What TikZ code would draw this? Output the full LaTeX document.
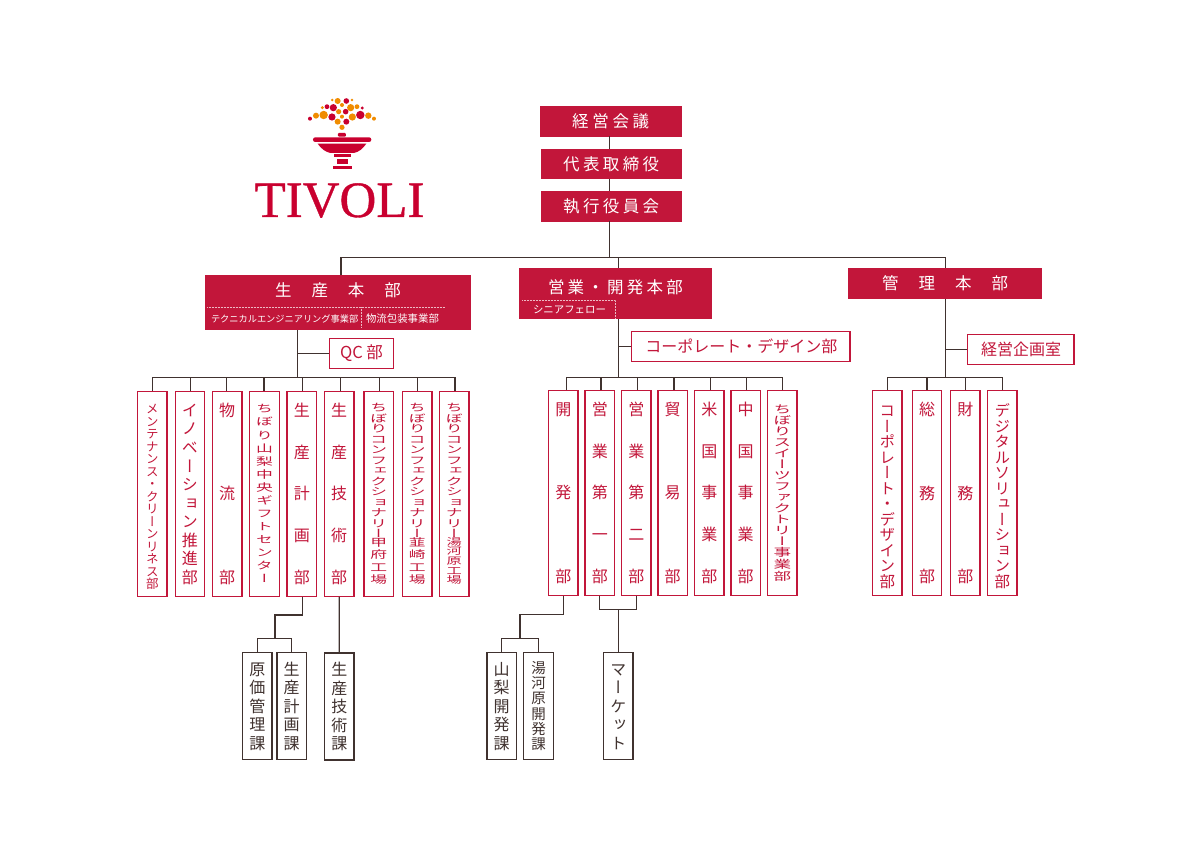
\documentclass[tikz,border=0pt]{standalone}
\usepackage{fontspec}
\newfontfamily\hf{Noto Sans CJK JP}
\newfontfamily\vf[RawFeature=+vert]{Noto Sans CJK JP}
\newfontfamily\vfw[RawFeature=+vert,FakeStretch=1.6]{Noto Sans CJK JP}
\newfontfamily\logofont[FakeBold=0.7]{Liberation Serif}
\definecolor{brand}{HTML}{C2163A}
\definecolor{logored}{HTML}{C9002F}
\definecolor{logoor}{HTML}{F08C00}
\definecolor{linecol}{HTML}{40322F}
\makeatletter
\newdimen\vstsize
% #1 font, #2 size, #3 stack height, #4 characters
\newcommand\vst[4]{\vbox to #3pt{\offinterlineskip\vstsize=#2pt
  \fontsize{#2}{#2}#1\selectfont
  \def\vstsep{}%
  \@tfor\vstch:=#4\do{\vstsep\gdef\vstsep{\vfill}%
    \hbox to 20pt{\hss\vrule height .88\vstsize depth .12\vstsize width 0pt\smash{\vstch}\hss}}%
  \global\let\vstsep\relax}}
% #1 size, #2 width, #3 characters
\newcommand\hsp[3]{\hbox to #2pt{\fontsize{#1}{#1}\hf\selectfont
  \def\hspsep{}%
  \@tfor\hspch:=#3\do{\hspsep\gdef\hspsep{\hfill}\hbox{\hspch}}%
  \global\let\hspsep\relax}}
\makeatother
\tikzset{
  x=1pt,y=-1pt,
  redbox/.style={draw=brand,fill=brand,line width=.6pt,inner sep=0pt,text=white},
  deptbox/.style={draw=brand,fill=white,line width=1.25pt,inner sep=0pt,minimum width=29.5pt,minimum height=205pt,text=brand},
  secbox/.style={draw=linecol,fill=white,line width=1.25pt,inner sep=0pt,minimum width=29.5pt,minimum height=107pt,text=linecol},
  sidebox/.style={draw=brand,fill=white,line width=1.25pt,inner sep=0pt,minimum height=29.5pt,text=brand},
  conn/.style={draw=linecol,line width=1.3pt},
  dotline/.style={draw=white!70!brand,line width=.5pt,densely dotted},
  subtext/.style={inner sep=0pt,text=white},
}
\begin{document}
\begin{tikzpicture}
\useasboundingbox (0,0) rectangle (1200,867);
\fill[white] (0,0) rectangle (1200,867);
% --- logo
\begin{scope}[shift={(230,85)},x=.3333pt,y=-.3333pt]
\foreach \a/\b/\r in {323/48/7.5,307/45/3.5,366/45/3.5,277/68/4,336/60/5,362/68/9,381/65/6,258/92/7.5,281/90/10.5,326/80/6.5,336/95/5,367/96/9,415/92/8,432/101/5,323/110/7.5,336/127/6.5}
  \fill[logoor] (\a,\b) circle[radius=1.2*\r];
\foreach \a/\b/\r in {349/48/7,291/65/6,310/68/9,397/69/4,240/101/5,306/96/9,347/80/7,391/90/10.5,349/110/7.5}
  \fill[logored] (\a,\b) circle[radius=1.2*\r];
\fill[logored,rounded corners=1pt] (324,155) -- (324,144) -- (348,144) -- (348,155) -- cycle;
\fill[logored,rounded corners=2.2pt] (249,171) -- (249,157) -- (424,157) -- (424,171) -- cycle;
\fill[logored] (263,176) -- (409,176) .. controls (398,192) and (386,201) .. (372,204) -- (301,204) .. controls (287,201) and (274,192) .. (263,176) -- cycle;
\fill[logored] (312,207) rectangle (362,216);
\fill[logored] (321,221) rectangle (353,238);
\fill[logored] (309,242) rectangle (365,252);
\end{scope}
\node[inner sep=0pt,text=logored] (logo) at (339.5,200.5) {\fontsize{51}{51}\logofont\selectfont TIVOLI};
% --- top boxes
\node[redbox,minimum width=140.5pt,minimum height=29.3pt] (kaigi) at (610.7,121.4) {\hsp{16.5}{77}{経営会議}};
\node[redbox,minimum width=139.5pt,minimum height=29.3pt] (daihyo) at (611.2,164) {\hsp{16.5}{96}{代表取締役}};
\node[redbox,minimum width=139.5pt,minimum height=29.3pt] (shikko) at (611.2,206.2) {\hsp{16.5}{96}{執行役員会}};
% --- divisions
\node[redbox,minimum width=264.5pt,minimum height=54.7pt] (seisan) at (337.8,302.4) {};
\node[subtext] (seisanT) at (338,290) {\hsp{16.5}{126}{生産本部}};
\node[subtext] (seisanA) at (283,319) {\hsp{9.2}{144}{テクニカルエンジニアリング事業部}};
\node[subtext] (seisanB) at (402.5,319) {\hsp{10.4}{73}{物流包装事業部}};
\coordinate (sd1) at (207,307); \coordinate (sd2) at (445,307);
\coordinate (sd3) at (361.7,307); \coordinate (sd4) at (361.7,328);
\draw[dotline] (sd1) -- (sd2);
\draw[dotline] (sd3) -- (sd4);
\node[redbox,minimum width=192.7pt,minimum height=50pt] (eigyo) at (615.4,293.7) {};
\node[subtext] (eigyoT) at (615.5,287) {\hsp{16.5}{135}{営業・開発本部}};
\node[subtext] (eigyoA) at (569.5,310) {\hsp{10.4}{73}{シニアフェロー}};
\coordinate (ed2) at (522,300);
\coordinate (ed3) at (615.5,300); \coordinate (ed4) at (615.5,318.5);
\draw[dotline] (ed2) -- (ed3) -- (ed4);
\node[redbox,minimum width=193.4pt,minimum height=29.6pt] (kanri) at (945,283.5) {\hsp{16.5}{126}{管理本部}};
% --- side boxes
\node[sidebox,minimum width=64.4pt,minimum height=30pt] (qc) at (361.5,353.4) {\fontsize{16.5}{16.5}\hf\selectfont QC 部};
\node[sidebox,minimum width=218.3pt,minimum height=30.3pt] (corpS) at (740.8,346.5) {\hsp{16}{191}{コーポレート・デザイン部}};
\node[sidebox,minimum width=106.7pt] (kikaku) at (1020.6,349.5) {\hsp{16}{79}{経営企画室}};
% --- production departments
\node[deptbox] (p1) at (152.3,493.8) {\vst{\vf}{12.5}{181}{メンテナンス・クリーンリネス部}};
\node[deptbox] (p2) at (189.9,493.8) {\vst{\vf}{16}{181}{イノベーション推進部}};
\node[deptbox] (p3) at (227.2,493.8) {\vst{\vf}{16}{181}{物流部}};
\node[deptbox] (p4) at (264.5,493.8) {\vst{\vfw}{10.5}{179}{ちぼり山梨中央ギフトセンター}};
\node[deptbox] (p5) at (301.8,493.8) {\vst{\vf}{16}{181}{生産計画部}};
\node[deptbox] (p6) at (339.2,493.8) {\vst{\vf}{16}{181}{生産技術部}};
\node[deptbox] (p7) at (378.7,493.8) {\vbox{\vst{\vfw}{10.5}{125}{ちぼりコンフェクショナリー}\kern7pt\vst{\vfw}{10.5}{47}{甲府工場}}};
\node[deptbox] (p8) at (417.3,493.8) {\vbox{\vst{\vfw}{10.5}{125}{ちぼりコンフェクショナリー}\kern7pt\vst{\vfw}{10.5}{47}{韮崎工場}}};
\node[deptbox] (p9) at (454.3,493.8) {\vbox{\vst{\vfw}{10.5}{125}{ちぼりコンフェクショナリー}\kern7pt\vst{\vfw}{9.5}{47}{湯河原工場}}};
% --- sales departments
\node[deptbox] (s1) at (563.3,492.8) {\vst{\vf}{16}{181}{開発部}};
\node[deptbox] (s2) at (599.8,492.8) {\vst{\vf}{16}{181}{営業第一部}};
\node[deptbox] (s3) at (636.3,492.8) {\vst{\vf}{16}{181}{営業第二部}};
\node[deptbox] (s4) at (672.7,492.8) {\vst{\vf}{16}{181}{貿易部}};
\node[deptbox] (s5) at (709.3,492.8) {\vst{\vf}{16}{181}{米国事業部}};
\node[deptbox] (s6) at (745.7,492.8) {\vst{\vf}{16}{181}{中国事業部}};
\node[deptbox] (s7) at (782.3,492.8) {\vbox{\vst{\vfw}{11}{140}{ちぼりスイーツファクトリー}\kern1pt\vst{\vfw}{11}{33}{事業部}}};
% --- admin departments
\node[deptbox] (a1) at (887.3,493) {\vst{\vf}{15.5}{178}{コーポレート・デザイン部}};
\node[deptbox] (a2) at (927,493) {\vst{\vf}{16}{181}{総務部}};
\node[deptbox] (a3) at (965.3,493) {\vst{\vf}{16}{181}{財務部}};
\node[deptbox] (a4) at (1002.3,493) {\vst{\vf}{15.5}{178}{デジタルソリューション部}};
% --- sections
\node[secbox] (k1) at (257.3,706) {\vst{\vf}{16}{88}{原価管理課}};
\node[secbox] (k2) at (291.7,706) {\vst{\vf}{16}{88}{生産計画課}};
\node[secbox] (k3) at (339.3,706.5) {\vst{\vf}{16}{88}{生産技術課}};
\node[secbox] (k4) at (501.7,706) {\vst{\vf}{16}{88}{山梨開発課}};
\node[secbox] (k5) at (538.5,706) {\vst{\vf}{14.5}{88}{湯河原開発課}};
\node[secbox] (k6) at (618.3,706) {\vst{\vf}{16}{88}{マーケット}};
% --- connectors
\coordinate (busTop) at (0,257.3);
\coordinate (busP) at (0,377.3);
\coordinate (dropP) at (341,257.3);
\coordinate (trunkT) at (609.7,0);
\coordinate (trunkP) at (297.3,0);
\coordinate (dropE) at (618.8,0);
\coordinate (trunkK) at (945.3,0);
\draw[conn] (kaigi.south -| trunkT) -- (daihyo.north -| trunkT);
\draw[conn] (daihyo.south -| trunkT) -- (shikko.north -| trunkT);
\draw[conn] (shikko.south -| trunkT) -- (busTop -| trunkT);
\draw[conn] (dropP) -- (seisan.north -| dropP);
\draw[conn] (dropP) -- (busTop -| trunkK) -- (kanri.north -| trunkK);
\draw[conn] (busTop -| dropE) -- (eigyo.north -| dropE);
% production tree
\draw[conn] (seisan.south -| trunkP) -- (busP -| trunkP);
\draw[conn] (qc.west) -- (qc.west -| trunkP);
\draw[conn] (p1.north |- busP) -- ([xshift=.7pt]p9.north |- busP);
\foreach \n/\d in {p1/0,p2/.4,p3/-.4,p4/-.4,p5/.5,p6/1.5,p7/.6,p8/.4,p9/.7}
  \draw[conn] ([xshift=\d pt]\n.north) -- ([xshift=\d pt]\n.north |- busP);
% sales tree
\draw[conn] (eigyo.south -| dropE) -- (busP -| dropE);
\draw[conn] (corpS.west) -- (corpS.west -| dropE);
\draw[conn] ([xshift=3.4pt]s1.north |- busP) -- (s7.north |- busP);
\foreach \n/\d in {s1/3.4,s2/1.2,s3/1,s4/1.3,s5/1,s6/1,s7/0}
  \draw[conn] ([xshift=\d pt]\n.north) -- ([xshift=\d pt]\n.north |- busP);
% admin tree
\draw[conn] (kanri.south -| trunkK) -- (busP -| trunkK);
\draw[conn] (kikaku.west) -- (kikaku.west -| trunkK);
\draw[conn] (a1.north |- busP) -- ([xshift=.4pt]a4.north |- busP);
\foreach \n/\d in {a1/0,a2/0,a3/0,a4/.4}
  \draw[conn] ([xshift=\d pt]\n.north) -- ([xshift=\d pt]\n.north |- busP);
% sections
\coordinate (jogA) at (0,615); \coordinate (busK) at (0,638.7);
\coordinate (jogX) at (275,0);
\draw[conn] ([xshift=.9pt]p5.south) -- ([xshift=.9pt]p5.south |- jogA) -- (jogA -| jogX) -- (busK -| jogX);
\draw[conn] (k1.north) -- (k1.north |- busK) -- (k2.north |- busK) -- (k2.north);
\draw[conn] (p6.south) -- (k3.north);
\coordinate (jogB) at (0,614.3); \coordinate (jogY) at (520,0);
\draw[conn] (s1.south) -- (s1.south |- jogB) -- (jogB -| jogY) -- (busK -| jogY);
\draw[conn] (k4.north) -- (k4.north |- busK) -- (k5.north |- busK) -- (k5.north);
\coordinate (jogC) at (0,609.7);
\draw[conn] ([xshift=-.5pt]s2.south) -- ([xshift=-.5pt]s2.south |- jogC) -- ([xshift=.4pt]s3.south |- jogC) -- ([xshift=.4pt]s3.south);
\draw[conn] (k6.north) -- (k6.north |- jogC);
\end{tikzpicture}
\end{document}
